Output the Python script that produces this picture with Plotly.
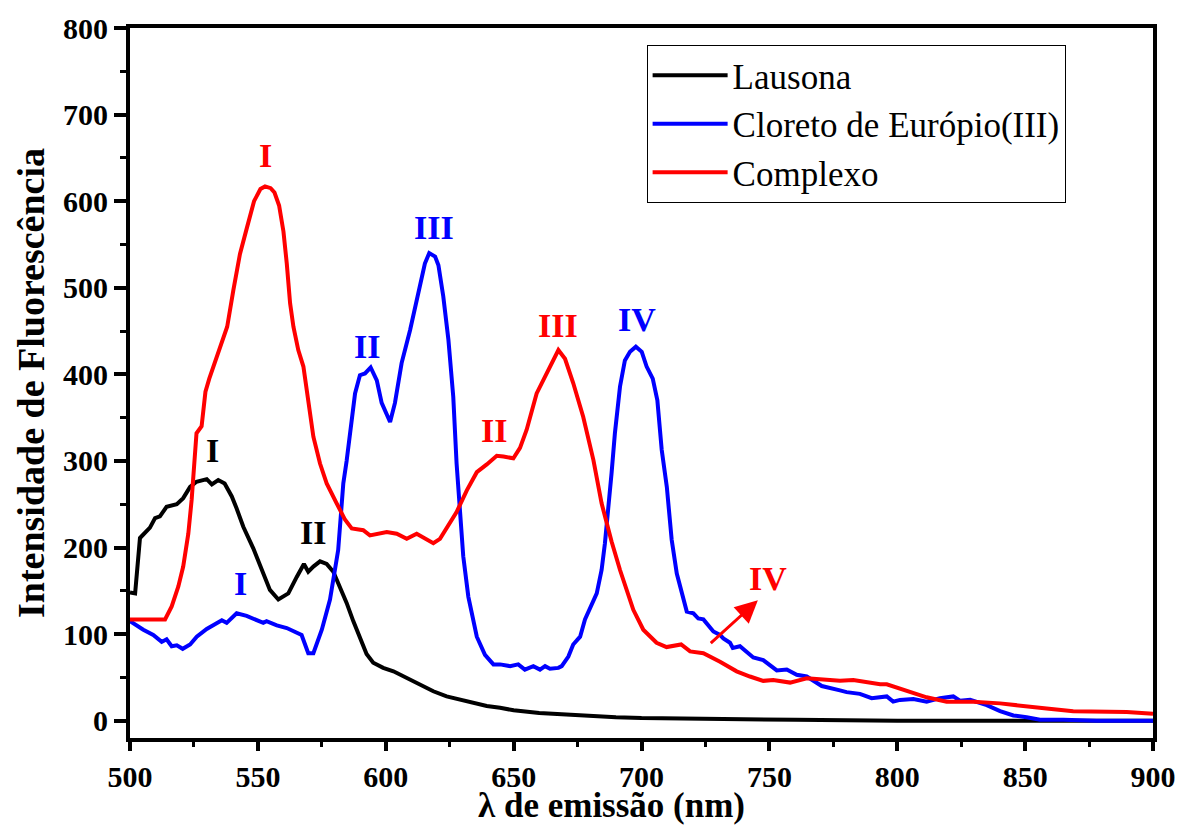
import plotly.graph_objects as go

# Emission spectra (wavelength in nm, fluorescence intensity)
lausona_nm = [500, 502, 503.9, 507.8, 509.8, 511.7, 514.3, 518.3, 520.8, 523.5, 526, 530, 532,
              534.5, 537, 539.8, 541.7, 544.3, 548.2, 552.1, 554.7, 558, 561.9, 565.2, 568, 569.7,
              571.7, 574.3, 576.9, 579.5, 582.1, 584.7, 587.3, 589.9, 592.5, 595.1, 599, 603,
              605.6, 609.5, 614.7, 618.6, 623.8, 629, 634.2, 639.5, 644.7, 650, 660, 670, 680,
              690, 700, 720, 740, 760, 780, 800, 850, 900]
lausona_int = [148, 147, 211, 223, 234, 236, 247, 250, 257, 270, 276, 279, 273,
               278, 274, 259, 245, 224, 199, 170, 151, 140, 147, 166, 181, 172,
               178, 184, 181, 172, 155, 136, 115, 95, 77, 67, 61, 57,
               53, 47, 40, 34, 28, 24, 20, 17, 15, 12, 9, 7, 5,
               4, 3, 2, 1.5, 1, 0.5, 0, 0, 0]

cloreto_nm = [500, 505.2, 509.1, 512.4, 514.3, 516.3, 518.3, 520.6, 523.5, 526.1, 530, 533.2,
              535.9, 537.8, 541.7, 545.6, 549.5, 552.1, 553.4, 557.4, 561.3, 563.9, 567.1,
              569.7, 571.7, 575, 578.2, 581.4, 583.4, 584.7, 586.7, 588, 589.9, 591.9, 594.1,
              596.5, 598.4, 601.7, 603.6, 606.2, 609.5, 612.7, 615.3, 617, 619.3, 620.6,
              622.5, 624.5, 626.4, 627.7, 629, 630.3, 632.3, 635.6, 638.8, 642.1, 644.7,
              648.6, 651.8, 654.4, 657.7, 660.3, 662.3, 664.2, 667.5, 668.8, 671.4, 673.3,
              676, 677.9, 682.5, 684.4, 685.7, 687, 688.3, 689.6, 691.6, 693.5, 695.5,
              697.8, 700.1, 702, 704.4, 706.2, 707.9, 709.9, 711.8, 713.8, 716.3, 717.7,
              720.3, 722.2, 724.2, 728.1, 730.7, 732, 734.6, 735.7, 738.5, 741.1, 743.7,
              747.6, 752.9, 756.8, 760.7, 764.6, 767, 770.5, 777.6, 780.2, 785.4, 790,
              795.9, 798.4, 801.1, 806.3, 811.5, 816.7, 821.9, 824.5, 828.5, 835, 840.2,
              845.4, 850.6, 855.8, 864.9, 877.9, 900]
cloreto_int = [115, 105, 99, 91, 94, 86, 87, 83, 88, 97, 106, 112,
               116, 113, 124, 121, 116, 113, 115, 110, 107, 103, 99,
               78, 78, 105, 140, 197, 274, 300, 343, 378, 399, 401, 408,
               393, 367, 345, 367, 413, 451, 493, 528, 540, 536, 526,
               490, 440, 374, 297, 240, 190, 143, 97, 76, 65, 65,
               63, 65, 59, 63, 59, 63, 60, 61, 63, 74, 88,
               97, 117, 147, 174, 205, 243, 286, 332, 386, 416, 426,
               432, 426, 409, 395, 370, 313, 270, 209, 170, 143, 126,
               124, 118, 117, 103, 99, 95, 90, 84, 86, 80, 73,
               70, 58, 59, 53, 51, 47, 40, 35, 33, 31, 26,
               28, 22, 24, 25, 22, 26, 28, 23, 24, 18, 11,
               6, 4, 1, 1, 0, 0]

complexo_nm = [500, 513.7, 516.3, 518.9, 520.8, 522.8, 524.1, 525.4, 526, 528, 529.5, 531, 535,
               538, 540.4, 543, 545.6, 548.5, 551, 552.8, 555, 556.5, 558.3, 560, 561.3, 562.6,
               563.9, 565.8, 567.8, 569.7, 571.7, 574.3, 576.9, 580.8, 584.1, 586.7, 591.2,
               593.8, 600.4, 604.3, 608.2, 612.1, 618.6, 621.2, 627.7, 631.7, 635.6, 639.5,
               643.4, 646, 649.9, 652.5, 655.1, 659, 662.9, 665.5, 667.5, 670.1, 673.3, 677.2,
               681.2, 684.4, 686.4, 688.3, 691.6, 696.8, 700.7, 705.9, 709.8, 715.5, 719,
               722.9, 724.2, 730.7, 737.2, 742.4, 747.6, 751.5, 758.1, 764.6, 771.1, 777.6,
               782.8, 793.3, 795.9, 801.1, 806.3, 811.5, 819.3, 829.7, 840.2, 850.6, 858.4,
               868.8, 881.9, 889.7, 900]
complexo_int = [117, 117, 132, 155, 178, 216, 255, 301, 332, 340, 380, 395, 428,
                455, 497, 539, 568, 600, 614, 617, 615, 610, 595, 565, 528, 482,
                455, 428, 409, 367, 328, 297, 274, 251, 232, 222, 220,
                214, 218, 216, 210, 216, 205, 210, 241, 266, 287, 296,
                306, 305, 303, 315, 336, 378, 401, 418, 428, 418, 390, 351,
                301, 251, 226, 207, 174, 128, 105, 90, 85, 88, 80,
                78, 78, 68, 57, 51, 46, 47, 44, 49, 48, 46,
                47, 42, 42, 37, 32, 27, 22, 22, 20, 16, 14,
                11, 10, 10, 8]

series_names = ["Lausona", "Cloreto de Európio(III)", "Complexo"]
series_colors = ["#000000", "#0000FF", "#FF0000"]

# Band labels: (text, wavelength, intensity, colour)
band_labels = [
    ("I", 532.2, 312, "#000000"),
    ("II", 571.7, 217, "#000000"),
    ("I", 543.3, 158, "#0000FF"),
    ("II", 592.5, 432, "#0000FF"),
    ("III", 618.9, 570, "#0000FF"),
    ("IV", 698.1, 463, "#0000FF"),
    ("I", 552.8, 653, "#FF0000"),
    ("II", 642.3, 335, "#FF0000"),
    ("III", 667.5, 456, "#FF0000"),
    ("IV", 749.6, 164, "#FF0000"),
]
# Pointer towards the weak red band IV: tail -> head
arrow_tail = (726.5, 88)
arrow_head = (745.5, 139)

SERIF = "Times New Roman, Liberation Serif, serif"

fig = go.Figure()
for name, color, xs, ys in zip(series_names, series_colors,
                               [lausona_nm, cloreto_nm, complexo_nm],
                               [lausona_int, cloreto_int, complexo_int]):
    fig.add_trace(go.Scatter(x=xs, y=ys, mode="lines", name=name,
                             line=dict(color=color, width=4)))

annotations = []
for text, x, y, color in band_labels:
    annotations.append(dict(x=x, y=y, xref="x", yref="y", text=text, showarrow=False,
                            font=dict(family=SERIF, size=34, color=color, weight="bold"),
                            xanchor="center", yanchor="middle"))
annotations.append(dict(x=arrow_head[0], y=arrow_head[1], ax=arrow_tail[0], ay=arrow_tail[1],
                        xref="x", yref="y", axref="x", ayref="y", text="", showarrow=True,
                        arrowhead=2, arrowsize=1.5, arrowwidth=3, arrowcolor="#FF0000"))
# x-axis title, set slightly left of the plot centre
annotations.append(dict(x=0.471, y=-0.124, xref="paper", yref="paper",
                        text="λ de emissão (nm)", showarrow=False,
                        font=dict(family=SERIF, size=35, color="black", weight="bold"),
                        xanchor="center", yanchor="bottom", borderpad=0))

axis_common = dict(showline=True, linewidth=4, linecolor="black", mirror=True,
                   ticks="outside", tickwidth=4, tickcolor="black",
                   showgrid=False, zeroline=False, automargin=False,
                   tickfont=dict(family=SERIF, size=30, color="black", weight="bold"))

fig.update_layout(
    width=1178, height=826, autosize=False,
    margin=dict(l=130, r=25, t=28, b=88),
    paper_bgcolor="white", plot_bgcolor="white",
    xaxis=dict(range=[500, 900], tickvals=list(range(500, 901, 50)), ticklen=9,
               minor=dict(ticks="outside", ticklen=5, tickwidth=3, dtick=25, tickcolor="black"),
               **axis_common),
    yaxis=dict(range=[-20, 800], tickvals=list(range(0, 801, 100)), ticklen=12,
               minor=dict(ticks="outside", ticklen=6, tickwidth=3, dtick=50, tickcolor="black"),
               title=dict(text="Intensidade de Fluorescência", standoff=8,
                          font=dict(family=SERIF, size=38, color="black", weight="bold")),
               **axis_common),
    legend=dict(x=0.505, y=0.976, xanchor="left", yanchor="top",
                bgcolor="white", bordercolor="black", borderwidth=1,
                font=dict(family=SERIF, size=35, color="black"),
                itemwidth=75, tracegroupgap=0),
    annotations=annotations,
    showlegend=True,
)

fig.write_html("out.html")
